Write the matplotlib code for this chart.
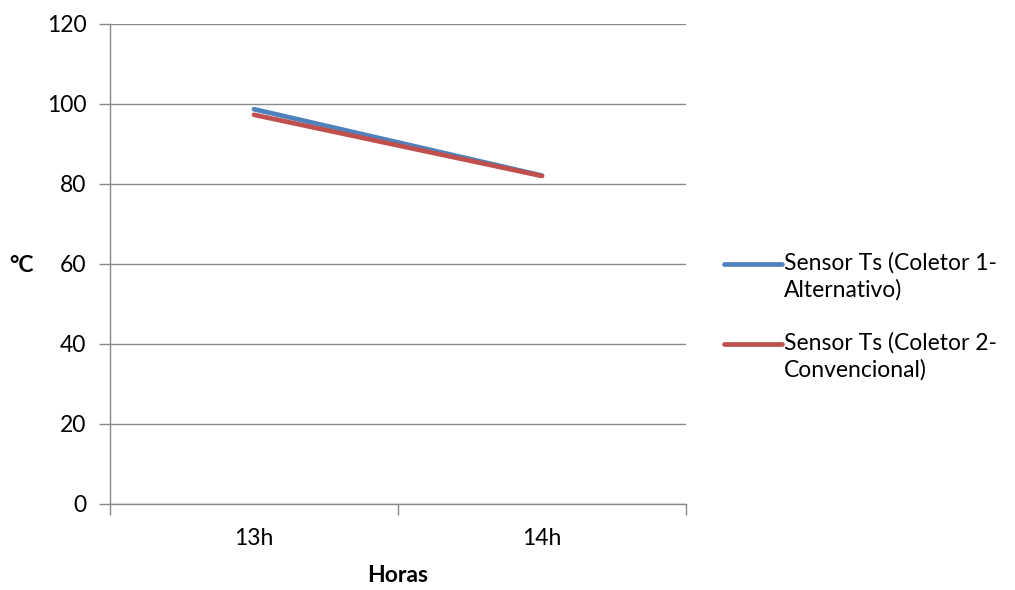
import matplotlib.pyplot as plt
from matplotlib.lines import Line2D

horas = ["13h", "14h"]
ts_coletor1 = [98.7, 82.1]   # Sensor Ts (Coletor 1 - Alternativo)
ts_coletor2 = [97.3, 82.0]   # Sensor Ts (Coletor 2 - Convencional)
series = [
    ("Sensor Ts (Coletor 1-\nAlternativo)", ts_coletor1, "#4F81BD"),
    ("Sensor Ts (Coletor 2-\nConvencional)", ts_coletor2, "#C0504D"),
]
y_ticks = [0, 20, 40, 60, 80, 100, 120]

plt.rcParams["font.family"] = ["Lato", "DejaVu Sans"]
grid_c = "#898989"
fs = 16.5

fig = plt.figure(figsize=(10.15, 5.90), dpi=100)
ax = fig.add_axes([110 / 1015, 86 / 590, 576 / 1015, 480 / 590])

x = [i + 0.5 for i in range(len(horas))]
for label, vals, color in series:
    ax.plot(x, vals, color=color, lw=3.4, solid_capstyle="round")

ax.set_xlim(0, len(horas))
ax.set_ylim(0, 120)
ax.set_yticks(y_ticks)
ax.set_yticklabels([str(v) for v in y_ticks], fontsize=fs)
ax.yaxis.grid(True, color=grid_c, lw=1.0)
ax.set_axisbelow(True)

# category boundaries carry the tick marks, labels sit between them
ax.set_xticks(range(len(horas) + 1))
ax.set_xticklabels([])
ax.set_xticks(x, minor=True)
ax.set_xticklabels(horas, minor=True, fontsize=fs)
ax.tick_params(axis="x", which="minor", length=0, pad=17)
ax.tick_params(axis="both", which="major", length=8, width=1.0, color=grid_c, direction="out")
ax.tick_params(axis="y", pad=9)

for s in ["top", "right"]:
    ax.spines[s].set_visible(False)
for s in ["left", "bottom"]:
    ax.spines[s].set_color(grid_c)
    ax.spines[s].set_linewidth(1.0)

ax.set_xlabel("Horas", fontsize=fs, fontweight="bold", labelpad=12)
fig.text(22 / 1015, 1 - 265 / 590, "°C", fontsize=fs, fontweight="bold",
         ha="center", va="center")

# legend drawn by hand: line level with the first text row
for i, (label, vals, color) in enumerate(series):
    yc = 1 - (264 + 80 * i) / 590
    fig.add_artist(Line2D([724 / 1015, 782 / 1015], [yc, yc], color=color,
                          lw=3.4, solid_capstyle="round", transform=fig.transFigure))
    fig.text(784 / 1015, yc + 12 / 590, label, fontsize=fs, ha="left", va="top",
             linespacing=1.3)

fig.savefig("out.png", dpi=100)
